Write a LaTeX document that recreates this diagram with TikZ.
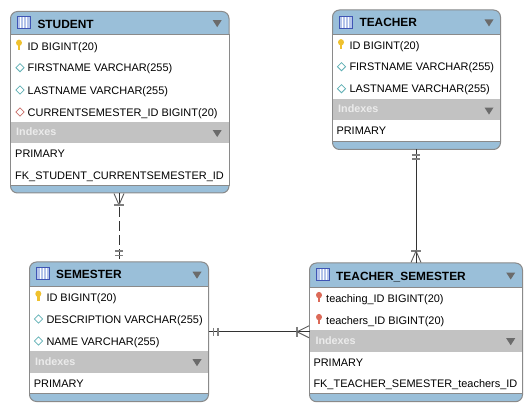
\documentclass[tikz,border=0pt]{standalone}
\usepackage{fontspec}
\setmainfont{Liberation Sans}
\usepackage{xcolor}
\usepackage{tikz}
\usetikzlibrary{
    arrows.meta,
    positioning,
    shapes.geometric,
    calc
}
\definecolor{headblue}{HTML}{9ABFD9}
\definecolor{indexgray}{HTML}{C2C2C2}
\definecolor{tableborder}{HTML}{8A8A8A}
\definecolor{arrowgray}{HTML}{6B6B6B}
\definecolor{iconblue}{HTML}{B4C4EA}
\definecolor{iconborder}{HTML}{3F55B5}
\definecolor{keygold}{HTML}{EFC12E}
\definecolor{keyred}{HTML}{DC6A58}
\definecolor{coldiamond}{HTML}{5FB0B5}
\definecolor{fkdiamond}{HTML}{C9706A}
\definecolor{linkdark}{HTML}{333333}
\definecolor{markgray}{HTML}{7F7F7F}

\tikzset{
    tablebox/.style={rectangle, draw=tableborder, fill=headblue, line width=1pt, rounded corners=7pt, inner sep=0pt, outer sep=0pt, anchor=north west},
    fieldband/.style={rectangle, draw=tableborder, fill=white, line width=0.8pt, inner sep=0pt, outer sep=0pt, anchor=north west},
    indexband/.style={rectangle, fill=indexgray, inner sep=0pt, outer sep=0pt, anchor=north west},
    tabletitle/.style={font=\fontsize{11.9}{13}\selectfont\bfseries, inner sep=0pt, anchor=base west},
    coltext/.style={font=\fontsize{10.95}{13}\selectfont, inner sep=0pt, anchor=base west},
    indextitle/.style={font=\fontsize{10.8}{13}\selectfont\bfseries, text=white!92!black, inner sep=0pt, anchor=base west},
    tableicon/.style={rectangle, draw=iconborder, fill=iconblue, line width=1pt, minimum width=13pt, minimum height=12pt, inner sep=0pt,
        path picture={\draw[white, line width=0.6pt] (path picture bounding box.north) -- (path picture bounding box.south);
            \draw[white, line width=0.6pt] ([xshift=-3pt]path picture bounding box.north) -- ([xshift=-3pt]path picture bounding box.south);
            \draw[white, line width=0.6pt] ([xshift=3pt]path picture bounding box.north) -- ([xshift=3pt]path picture bounding box.south);}},
    foldmark/.style={isosceles triangle, shape border rotate=270, isosceles triangle apex angle=66, isosceles triangle stretches, fill=arrowgray, minimum width=9pt, minimum height=7pt, inner sep=0pt},
    coldot/.style={diamond, draw=coldiamond, fill=white, line width=0.8pt, minimum size=8.5pt, inner sep=0pt},
    fkdot/.style={diamond, draw=fkdiamond, fill=white, line width=0.8pt, minimum size=8.5pt, inner sep=0pt},
    keyicon/.pic={
        \fill[#1] (0,-2.2) ellipse (3 and 3.2);
        \fill[#1] (-1.2,-1) rectangle (1.2,5);
    },
    linkline/.style={draw=linkdark, line width=1pt},
    barmark/.style={draw=markgray, line width=1.5pt},
    footmark/.style={draw=linkdark!80!white, line width=0.9pt}
}

\begin{document}
\begin{tikzpicture}[x=1pt, y=-1pt]

    \useasboundingbox (0,0) rectangle (532,411);

    % STUDENT table
    \node[tablebox, minimum width=218.5pt, minimum height=181.5pt] (student) at (10.5,11.5) {};
    \node[fieldband, minimum width=218.5pt, minimum height=88pt] (studentfields) at (10.5,34) {};
    \node[fieldband, minimum width=218.5pt, minimum height=63pt] (studentrows) at (10.5,122) {};
    \node[indexband, minimum width=217.5pt, minimum height=21.5pt] (studentindex) at (11,122) {};
    \node[tableicon] (studenticon) at (23.5,22.5) {};
    \node[tabletitle] (studenttitle) at (37.3,28.3) {STUDENT};
    \node[foldmark] (studentfold) at (217.2,22.6) {};
    \pic at (19,45) {keyicon=keygold};
    \node[coltext] (studentid) at (27.5,50.3) {ID BIGINT(20)};
    \node[coldot] (studentdota) at (20,67.7) {};
    \node[coltext] (studentfirst) at (27.5,72) {FIRSTNAME VARCHAR(255)};
    \node[coldot] (studentdotb) at (20,90) {};
    \node[coltext] (studentlast) at (27.5,94.3) {LASTNAME VARCHAR(255)};
    \node[fkdot] (studentdotc) at (20,112) {};
    \node[coltext] (studentcurrent) at (27.5,116.5) {CURRENTSEMESTER\_ID BIGINT(20)};
    \node[indextitle] (studentindextitle) at (16,136) {Indexes};
    \node[foldmark] (studentindexfold) at (217.2,132.5) {};
    \node[coltext] (studentprimary) at (15,158) {PRIMARY};
    \node[coltext] (studentfk) at (15,179.7) {FK\_STUDENT\_CURRENTSEMESTER\_ID};

    % TEACHER table
    \node[tablebox, minimum width=168pt, minimum height=139.5pt] (teacher) at (332.5,10) {};
    \node[fieldband, minimum width=168pt, minimum height=64.5pt] (teacherfields) at (332.5,34.5) {};
    \node[fieldband, minimum width=168pt, minimum height=42pt] (teacherrows) at (332.5,99) {};
    \node[indexband, minimum width=167pt, minimum height=21.5pt] (teacherindex) at (333,99) {};
    \node[tableicon] (teachericon) at (345.7,22.3) {};
    \node[tabletitle] (teachertitle) at (359.3,26.7) {TEACHER};
    \node[foldmark] (teacherfold) at (489,21.9) {};
    \pic at (341,44.5) {keyicon=keygold};
    \node[coltext] (teacherid) at (349.3,49.5) {ID BIGINT(20)};
    \node[coldot] (teacherdota) at (341.5,66.7) {};
    \node[coltext] (teacherfirst) at (349.3,71) {FIRSTNAME VARCHAR(255)};
    \node[coldot] (teacherdotb) at (341.5,88.7) {};
    \node[coltext] (teacherlast) at (349.3,93) {LASTNAME VARCHAR(255)};
    \node[indextitle] (teacherindextitle) at (338,113) {Indexes};
    \node[foldmark] (teacherindexfold) at (489,110) {};
    \node[coltext] (teacherprimary) at (336.3,134.7) {PRIMARY};

    % SEMESTER table
    \node[tablebox, minimum width=179pt, minimum height=139.5pt] (semester) at (29.5,262) {};
    \node[fieldband, minimum width=179pt, minimum height=64.3pt] (semesterfields) at (29.5,286.7) {};
    \node[fieldband, minimum width=179pt, minimum height=42.5pt] (semesterrows) at (29.5,351) {};
    \node[indexband, minimum width=178pt, minimum height=21.5pt] (semesterindex) at (30,351) {};
    \node[tableicon] (semestericon) at (43,274) {};
    \node[tabletitle] (semestertitle) at (56,279) {SEMESTER};
    \node[foldmark] (semesterfold) at (197,274.2) {};
    \pic at (38.3,296) {keyicon=keygold};
    \node[coltext] (semesterid) at (46.3,301.3) {ID BIGINT(20)};
    \node[coldot] (semesterdota) at (38.5,319) {};
    \node[coltext] (semesterdesc) at (46.3,323.3) {DESCRIPTION VARCHAR(255)};
    \node[coldot] (semesterdotb) at (38.5,341) {};
    \node[coltext] (semestername) at (46.3,345.3) {NAME VARCHAR(255)};
    \node[indextitle] (semesterindextitle) at (35,365.3) {Indexes};
    \node[foldmark] (semesterindexfold) at (197,361.7) {};
    \node[coltext] (semesterprimary) at (33.7,387.3) {PRIMARY};

    % TEACHER_SEMESTER table
    \node[tablebox, minimum width=213pt, minimum height=138.7pt] (teachersemester) at (309.5,263) {};
    \node[fieldband, minimum width=213pt, minimum height=42.3pt] (tsfields) at (309.5,287.7) {};
    \node[fieldband, minimum width=213pt, minimum height=63.5pt] (tsrows) at (309.5,330) {};
    \node[indexband, minimum width=212pt, minimum height=21.5pt] (tsindex) at (310,330) {};
    \node[tableicon] (tsicon) at (323.3,274.3) {};
    \node[tabletitle] (tstitle) at (336,280) {TEACHER\_SEMESTER};
    \node[foldmark] (tsfold) at (510.7,275) {};
    \pic at (319,297.3) {keyicon=keyred};
    \node[coltext] (tsteaching) at (326,302.3) {teaching\_ID BIGINT(20)};
    \pic at (319,319.3) {keyicon=keyred};
    \node[coltext] (tsteachers) at (326,324.3) {teachers\_ID BIGINT(20)};
    \node[indextitle] (tsindextitle) at (315.3,344.3) {Indexes};
    \node[foldmark] (tsindexfold) at (510.7,340.7) {};
    \node[coltext] (tsprimary) at (313.3,366.3) {PRIMARY};
    \node[coltext] (tsfk) at (313.3,387) {FK\_TEACHER\_SEMESTER\_teachers\_ID};

    % Student to semester
    \coordinate (studentfoot) at (semester.north |- student.south);
    \draw[linkline, dash pattern=on 10pt off 4pt] (studentfoot) -- (semester.north);
    \draw[footmark] ($(studentfoot)+(-5,0.5)$) -- ($(studentfoot)+(0,12)$) -- ($(studentfoot)+(5,0.5)$);
    \draw[barmark] ($(studentfoot)+(-5,12)$) -- ($(studentfoot)+(5,12)$);
    \draw[barmark] ($(semester.north)+(-4,-11)$) -- ($(semester.north)+(4,-11)$);
    \draw[barmark] ($(semester.north)+(-4,-6.5)$) -- ($(semester.north)+(4,-6.5)$);

    % Teacher to teacher_semester
    \coordinate (teacherfoot) at (teachersemester.north |- teacher.south);
    \draw[linkline] (teacherfoot) -- (teachersemester.north);
    \draw[barmark] ($(teacherfoot)+(-4,5.5)$) -- ($(teacherfoot)+(4,5.5)$);
    \draw[barmark] ($(teacherfoot)+(-4,9.5)$) -- ($(teacherfoot)+(4,9.5)$);
    \draw[barmark] ($(teachersemester.north)+(-5,-12)$) -- ($(teachersemester.north)+(5,-12)$);
    \draw[footmark] ($(teachersemester.north)+(-5,-0.5)$) -- ($(teachersemester.north)+(0,-12)$) -- ($(teachersemester.north)+(5,-0.5)$);

    % Semester to teacher_semester
    \coordinate (semesterfoot) at (semester.east -| teachersemester.west);
    \draw[linkline] (semester.east) -- (semesterfoot);
    \draw[barmark] ($(semester.east)+(5,-4)$) -- ($(semester.east)+(5,4)$);
    \draw[barmark] ($(semester.east)+(9.5,-4)$) -- ($(semester.east)+(9.5,4)$);
    \draw[barmark] ($(semesterfoot)+(-12.5,-5)$) -- ($(semesterfoot)+(-12.5,5)$);
    \draw[footmark] ($(semesterfoot)+(-0.5,-6)$) -- ($(semesterfoot)+(-12.5,0)$) -- ($(semesterfoot)+(-0.5,6)$);

\end{tikzpicture}
\end{document}
